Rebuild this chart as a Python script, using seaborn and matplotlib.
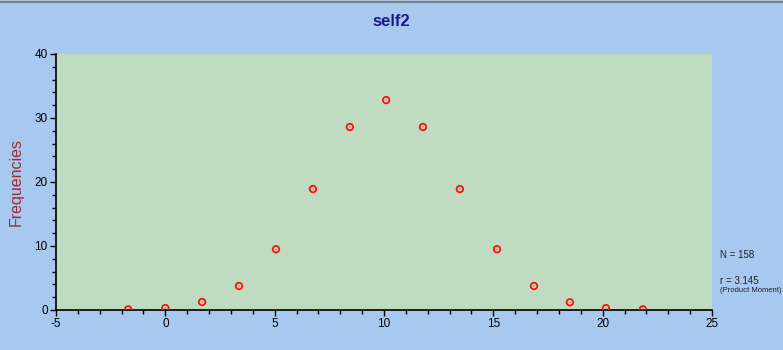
import matplotlib
matplotlib.use("Agg")
import matplotlib.pyplot as plt
from matplotlib.ticker import MultipleLocator
import seaborn as sns
import pandas as pd

title = "self2"
y_label = "Frequencies"
x_values = [-1.7, 0.0, 1.68, 3.37, 5.06, 6.75, 8.44, 10.1, 11.78, 13.47, 15.17, 16.86, 18.5, 20.15, 21.84]
frequencies = [0.1, 0.3, 1.25, 3.75, 9.5, 18.9, 28.6, 32.8, 28.6, 18.9, 9.5, 3.75, 1.2, 0.3, 0.1]
x_ticks = [-5, 0, 5, 10, 15, 20, 25]
y_ticks = [0, 10, 20, 30, 40]
stats_n = "N = 158"
stats_r = "r = 3.145"
stats_note = "(Product Moment)"

df = pd.DataFrame({"x": x_values, "freq": frequencies})

sns.set_theme(style="white")
plt.rcParams['font.family'] = ['Liberation Sans', 'DejaVu Sans']
plt.rcParams['axes.unicode_minus'] = False

fig = plt.figure(figsize=(7.83, 3.5), dpi=100)
fig.patch.set_facecolor("#A8C9EF")
ax = fig.add_axes([56/783, 40/350, 656/783, 256/350])
ax.set_facecolor("#C0DCC0")

sns.scatterplot(data=df, x="x", y="freq", ax=ax, marker="o", s=22,
                facecolors="none", edgecolor="#FF1010", linewidth=1.3, zorder=3)
sns.scatterplot(data=df, x="x", y="freq", ax=ax, marker=".", s=3,
                color="#C03030", edgecolor="none", zorder=4)

ax.set_xlim(-5, 25)
ax.set_ylim(0, 40)
ax.set_xticks(x_ticks)
ax.set_yticks(y_ticks)
ax.xaxis.set_minor_locator(MultipleLocator(1))
ax.yaxis.set_minor_locator(MultipleLocator(2))
ax.tick_params(axis="both", which="major", direction="out", length=4, width=1,
               color="black", labelsize=8.5, labelcolor="black", pad=2, bottom=True, left=True)
ax.tick_params(axis="both", which="minor", direction="out", length=3, width=1,
               color="black", bottom=True, left=True)
for s in ["top", "right"]:
    ax.spines[s].set_visible(False)
for s in ["left", "bottom"]:
    ax.spines[s].set_color("black")
    ax.spines[s].set_linewidth(1.2)
ax.set_xlabel("")
ax.set_ylabel(y_label, color="#9E2A35", fontsize=11.5, labelpad=8)

fig.text(0.5, 1 - 21/350, title, ha="center", va="center", fontsize=12,
         fontweight="bold", color="#1A1A8C")
fig.text(720/783, 1 - 255/350, stats_n, ha="left", va="center", fontsize=7, color="#202020")
fig.text(720/783, 1 - 281/350, stats_r, ha="left", va="center", fontsize=7, color="#202020")
fig.text(720/783, 1 - 291/350, stats_note, ha="left", va="center", fontsize=5.5, color="#202020")

fig.add_artist(plt.Line2D([0, 1], [1 - 2/350, 1 - 2/350], color="#808080", linewidth=1.5))

fig.savefig("out.png", dpi=100, facecolor=fig.get_facecolor())
